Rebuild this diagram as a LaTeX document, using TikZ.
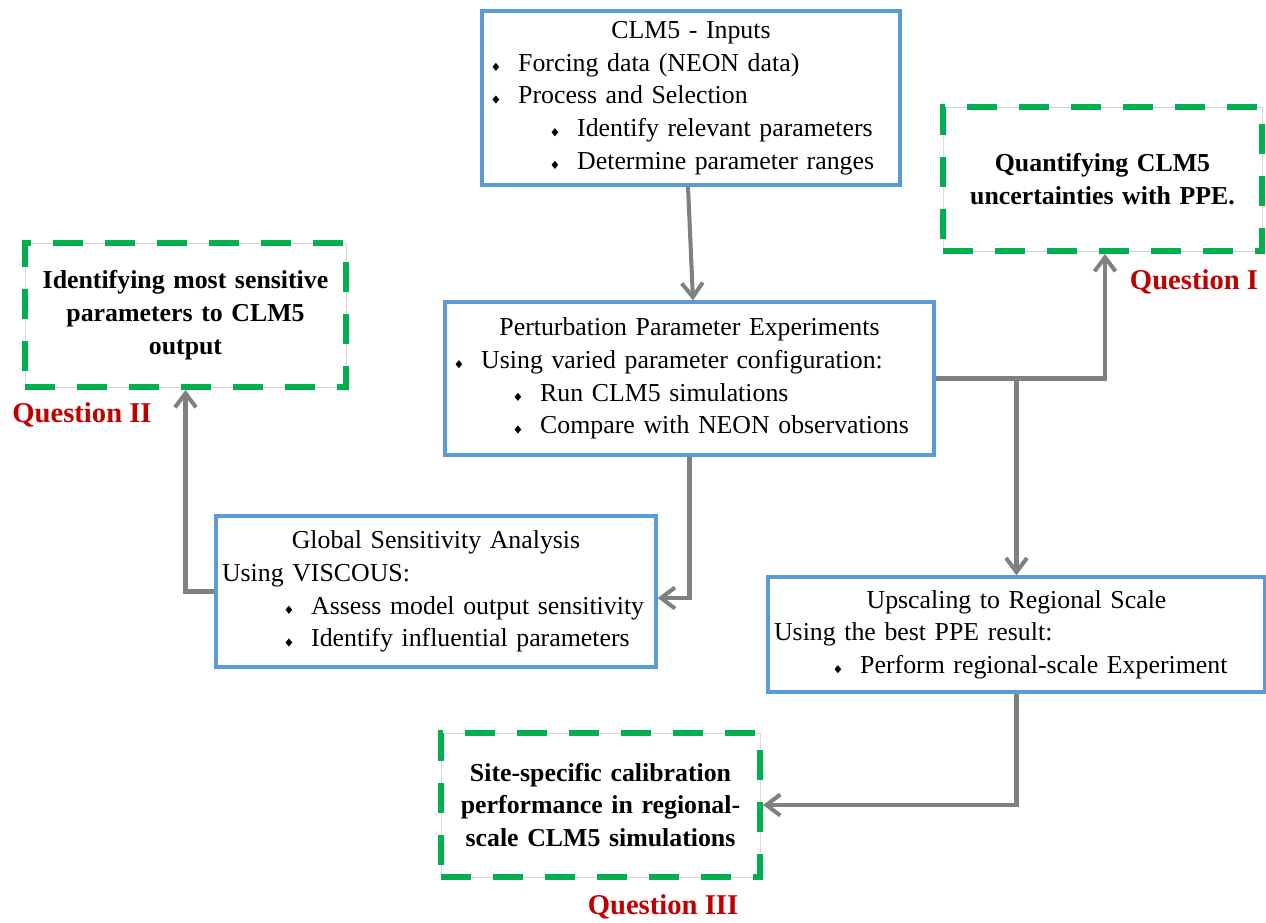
\documentclass[tikz,border=0pt]{standalone}
\usepackage{fontspec}
\setmainfont{Liberation Serif}
\usetikzlibrary{arrows.meta,calc}

\definecolor{boxblue}{HTML}{5B9BD5}
\definecolor{qgreen}{HTML}{00B050}
\definecolor{qred}{HTML}{C00000}
\definecolor{arrgray}{HTML}{808080}

\newcommand{\bodyfont}{\fontsize{14.7pt}{18.6pt}\selectfont}
\newcommand{\lozbul}{\tikz[baseline=-2.4pt]\fill[black] (0,2.3pt) -- (1.9pt,0) -- (0,-2.3pt) -- (-1.9pt,0) -- cycle;}
\newcommand{\itm}[2]{\hspace*{#1}\lozbul\hspace{0.38cm}#2}
\newcommand{\ttl}[1]{\makebox[\linewidth]{#1}}

\tikzset{
	stepbox/.style={draw=boxblue, line width=1.9pt, fill=white, align=left, inner xsep=0.12cm, inner ysep=0pt, font=\bodyfont},
	qbox/.style={preaction={draw=gray!30, line width=0.5pt, solid}, draw=qgreen, line width=3.4pt, dash pattern=on 0.6cm off 0.44cm, align=center, inner xsep=0.12cm, inner ysep=0pt, font=\bodyfont\bfseries},
	qlabel/.style={text=qred, font=\fontsize{16.3pt}{19pt}\selectfont\bfseries},
	arr/.style={draw=arrgray, line width=2.3pt, -{Straight Barb[length=0.28cm,width=0.42cm]}}
}

\begin{document}
\begin{tikzpicture}[x=0.02cm,y=-0.02cm]
	\useasboundingbox (0,0) rectangle (1266,922);

	% Cajas de pasos
	\node [stepbox, text width=8.12cm, minimum height=3.48cm] (inputs) at (691,98) {%
		\ttl{CLM5 - Inputs}\\
		\itm{0.09cm}{Forcing data (NEON data)}\\
		\itm{0.09cm}{Process and Selection}\\
		\itm{1.27cm}{Identify relevant parameters}\\
		\itm{1.27cm}{Determine parameter ranges}};
	\node [stepbox, text width=9.54cm, minimum height=3.06cm] (ppe) at (689.5,378.5) {%
		\ttl{Perturbation Parameter Experiments}\\
		\itm{0.09cm}{Using varied parameter configuration:}\\
		\itm{1.27cm}{Run CLM5 simulations}\\
		\itm{1.27cm}{Compare with NEON observations}};
	\node [stepbox, text width=8.56cm, minimum height=3.02cm] (gsa) at (436,591.5) {%
		\ttl{Global Sensitivity Analysis}\\
		Using VISCOUS:\\
		\itm{1.27cm}{Assess model output sensitivity}\\
		\itm{1.27cm}{Identify influential parameters}};
	\node [stepbox, text width=9.7cm, minimum height=2.3cm] (upscale) at (1016.5,634.5) {%
		\ttl{Upscaling to Regional Scale}\\
		Using the best PPE result:\\
		\itm{1.21cm}{Perform regional-scale Experiment}};

	% Preguntas
	\node [qbox, text width=6.14cm, minimum height=2.88cm] (quant) at (1102.5,179) {Quantifying CLM5\\uncertainties with PPE.};
	\node [qbox, text width=6.18cm, minimum height=2.88cm] (ident) at (185.5,315) {Identifying most sensitive\\parameters to CLM5\\output};
	\node [qbox, text width=6.14cm, minimum height=2.88cm] (site) at (600.5,805) {Site-specific calibration\\performance in regional-\\scale CLM5 simulations};
	\node [qlabel] (qone) at (1194,282) {Question I};
	\node [qlabel] (qtwo) at (82,415) {Question II};
	\node [qlabel] (qthree) at (663,907) {Question III};

	% Flechas
	\coordinate (br) at (ppe.east -| upscale.north);
	\draw [arr] ($(inputs.south)+(-3,0)$) -- ($(ppe.north)+(3.5,0)$);
	\draw [arr] (ppe.east) -| ($(quant.south)+(2.5,0)$);
	\draw [arr] (br) -- (upscale.north);
	\draw [arr] (ppe.south) |- ($(gsa.east)+(0,6.5)$);
	\draw [arr] (gsa.west) -| (ident.south);
	\draw [arr] (upscale.south) |- (site.east);
\end{tikzpicture}
\end{document}
